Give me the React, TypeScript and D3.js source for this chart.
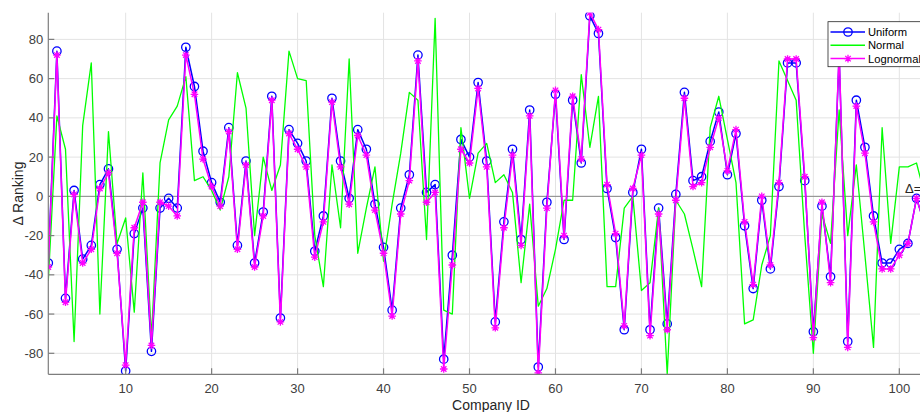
import React from 'react';
import * as d3 from 'd3';

// Change in ranking per company under three score distributions
const uniformDelta = [
  -34, 74, -52, 3, -32, -25, 6, 14, -27, -89,
  -19, -6, -79, -6, -1, -6, 76, 56, 23, 7,
  -3, 35, -25, 18, -34, -8, 51, -62, 34, 27,
  18, -28, -10, 50, 18, -1, 34, 24, -4, -26,
  -58, -6, 11, 72, 2, 6, -83, -30, 29, 20,
  58, 18, -64, -13, 24, -22, 44, -87, -3, 52,
  -22, 49, 17, 92, 83, 4, -21, -68, 2, 24,
  -68, -6, -65, 1, 53, 8, 10, 28, 43, 11,
  32, -15, -47, -2, -37, 5, 68, 68, 8, -69,
  -5, -41, 72, -74, 49, 25, -10, -34, -34, -27,
  -24, -1, -15, 10,
];

const normalDelta = [
  -43, 41, 24, -74, 36, 68, -60, 33, -24, -11,
  -59, 12, -72, 17, 39, 46, 61, 8, 10, 3,
  -7, 10, 63, 45, -20, 20, 3, 16, 74, 60,
  59, -20, -46, 16, -16, 70, -29, -6, 15, -33,
  -4, 22, 53, 49, -22, 90.7, -58, -60, 35, -1,
  22, 27, 7, 11, 2, -44, -4, -56, -47, -27,
  -2, -2, 62, 25, 51, -46, -46, -6, 0, -48,
  -44, -6, -90.7, -2, -9, -27, -46, 35, 51, 29,
  7, -65, -63, -35, -20, 69, 59, 49, -20, -80,
  -9, -24, 44, -20, 16, -30, -77, 35, -24, 15,
  15, 17, 0, 5,
];

const lognormalDelta = [
  -36, 72, -54, 1, -34, -27, 4, 12, -29, -86,
  -16, -3, -76, -3, -5, -10, 72, 52, 19, 5,
  -5, 33, -27, 16, -36, -10, 49, -64, 32, 24,
  15, -31, -13, 48, 15, -4, 31, 21, -7, -29,
  -61, -9, 8, 69, -3, 2, -88, -35, 24, 17,
  55, 15, -67, -16, 21, -25, 41, -90, -6, 54,
  -20, 51, 19, 93.6, 85, 6, -19, -66, 4, 21,
  -71, -9, -68, -2, 50, 5, 7, 25, 40, 13,
  34, -13, -45, 0, -35, 7, 70, 70, 10, -72,
  -3, -44, 74, -77, 46, 22, -13, -37, -37, -30,
  -24, -1, -15, 8,
];

const companyIds = uniformDelta.map((_, i) => i + 1);

const xTicks = [10, 20, 30, 40, 50, 60, 70, 80, 90, 100];
const yTicks = [-80, -60, -40, -20, 0, 20, 40, 60, 80];

const seriesNames = ['Uniform', 'Normal', 'Lognormal'];
const seriesValues = [uniformDelta, normalDelta, lognormalDelta];
const seriesColors = ['#0000ff', '#00ff00', '#ff00ff'];
const seriesMarkers = ['circle', 'none', 'asterisk'];

const W = 920;
const H = 412;
const FONT = '"Liberation Sans", Arial, Helvetica, sans-serif';

const plot = { left: 48.3, right: 933.7, top: 12.7, bottom: 374.3 };

function Marker({ kind, x, y, color }: { kind: string; x: number; y: number; color: string }) {
  if (kind === 'circle') {
    return <circle cx={x} cy={y} r={4.2} fill="none" stroke={color} strokeWidth={1.3} />;
  }
  if (kind === 'asterisk') {
    const r = 3.8;
    const d = r * 0.72;
    return (
      <path
        d={`M${x - r},${y}H${x + r}M${x},${y - r}V${y + r}M${x - d},${y - d}L${x + d},${y + d}M${x - d},${y + d}L${x + d},${y - d}`}
        stroke={color}
        strokeWidth={1.3}
        fill="none"
      />
    );
  }
  return null;
}

export default function App() {
  const allValues = seriesValues.flat();
  const x = d3
    .scaleLinear()
    .domain(d3.extent(companyIds) as [number, number])
    .range([plot.left, plot.right]);
  const y = d3
    .scaleLinear()
    .domain(d3.extent(allValues) as [number, number])
    .range([plot.bottom, plot.top]);

  const line = d3
    .line<number>()
    .x((_, i) => x(companyIds[i]))
    .y((v) => y(v));

  const legend = { x: 828, y: 21.7, w: 97, h: 45, rowH: 13.3 };

  return (
    <svg
      width={W}
      height={H}
      style={{ position: 'absolute', left: 0, top: 0, background: '#fff', overflow: 'hidden' }}
      fontFamily={FONT}
    >
      <defs>
        <clipPath id="plot-area">
          <rect x={plot.left} y={plot.top} width={plot.right - plot.left} height={plot.bottom - plot.top} />
        </clipPath>
      </defs>
      <rect x={0} y={0} width={W} height={H} fill="#fff" />

      {/* grid */}
      <g stroke="#e3e3e3" strokeWidth={1}>
        {xTicks.map((t) => (
          <line key={`gx${t}`} x1={x(t)} x2={x(t)} y1={plot.top} y2={plot.bottom} />
        ))}
        {yTicks.map((t) => (
          <line key={`gy${t}`} x1={plot.left} x2={plot.right} y1={y(t)} y2={y(t)} />
        ))}
      </g>

      {/* zero reference line */}
      <line x1={plot.left} x2={plot.right} y1={y(0)} y2={y(0)} stroke="#8a8a8a" strokeWidth={1} />

      {/* series */}
      <g clipPath="url(#plot-area)">
        {seriesValues.map((vals, s) => (
          <g key={seriesNames[s]}>
            <path
              d={line(vals) ?? ''}
              fill="none"
              stroke={seriesColors[s]}
              strokeWidth={s === 1 ? 1.3 : 1.5}
              strokeLinejoin="round"
            />
            {vals.map((v, i) => (
              <Marker key={i} kind={seriesMarkers[s]} x={x(companyIds[i])} y={y(v)} color={seriesColors[s]} />
            ))}
          </g>
        ))}
      </g>

      {/* axes */}
      <g stroke="#7d7d7d" strokeWidth={1.2} fill="none">
        <line x1={plot.left} x2={plot.left} y1={plot.top} y2={plot.bottom} />
        <line x1={plot.left} x2={plot.right} y1={plot.bottom} y2={plot.bottom} />
        {xTicks.map((t) => (
          <line key={`tx${t}`} x1={x(t)} x2={x(t)} y1={plot.bottom} y2={plot.bottom - 6} />
        ))}
        {yTicks.map((t) => (
          <line key={`ty${t}`} x1={plot.left} x2={plot.left + 6} y1={y(t)} y2={y(t)} />
        ))}
      </g>

      <g fill="#404040" fontSize={13}>
        {xTicks.map((t) => (
          <text key={`lx${t}`} x={x(t)} y={plot.bottom + 18.5} textAnchor="middle">
            {t}
          </text>
        ))}
        {yTicks.map((t) => (
          <text key={`ly${t}`} x={plot.left - 5} y={y(t) + 4.5} textAnchor="end">
            {t}
          </text>
        ))}
      </g>

      <text
        x={(plot.left + plot.right) / 2}
        y={plot.bottom + 36}
        textAnchor="middle"
        fontSize={14}
        fill="#262626"
      >
        Company ID
      </text>
      <text
        transform={`translate(23,${(plot.top + plot.bottom) / 2}) rotate(-90)`}
        textAnchor="middle"
        fontSize={14}
        fill="#262626"
      >
        Δ Ranking
      </text>

      <text x={905} y={193} fontSize={13} fill="#262626">
        Δ=
      </text>

      {/* legend */}
      <g>
        <rect x={legend.x} y={legend.y} width={legend.w} height={legend.h} fill="#fff" stroke="#262626" strokeWidth={0.8} />
        {seriesNames.map((name, s) => {
          const cy = legend.y + 10.3 + s * legend.rowH;
          return (
            <g key={name}>
              <line x1={legend.x + 2.5} x2={legend.x + 37} y1={cy} y2={cy} stroke={seriesColors[s]} strokeWidth={1.5} />
              <Marker kind={seriesMarkers[s]} x={legend.x + 20} y={cy} color={seriesColors[s]} />
              <text x={legend.x + 40} y={cy + 4} fontSize={11.2} fill="#000">
                {name}
              </text>
            </g>
          );
        })}
      </g>
    </svg>
  );
}
